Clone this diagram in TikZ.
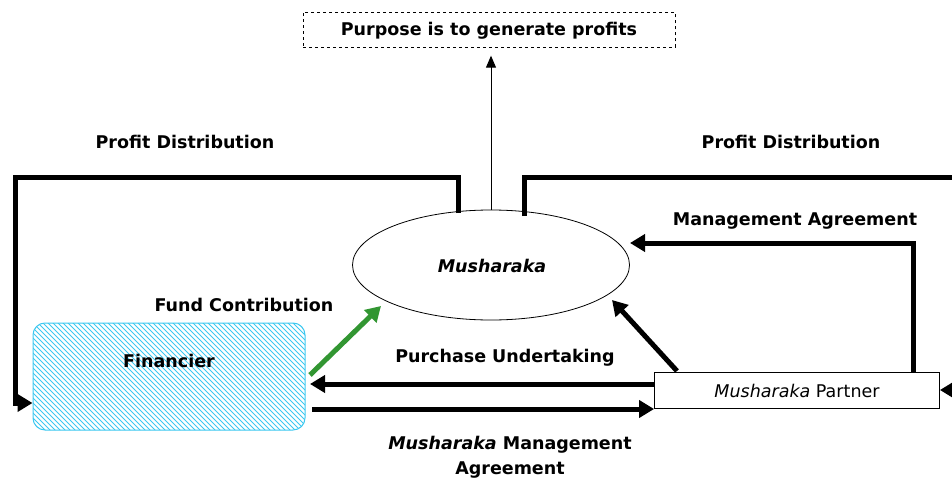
\documentclass[tikz,border=0pt]{standalone}
\usepackage{fontspec}
\setmainfont{DejaVu Sans}
\usetikzlibrary{arrows.meta,shapes.geometric}
\definecolor{hatch}{RGB}{60,200,240}
\definecolor{fgreen}{RGB}{50,150,50}
\begin{document}
\begin{tikzpicture}[x=1pt,y=-1pt,
  lbl/.style={font=\fontsize{17.5}{20}\selectfont\bfseries, inner sep=0pt},
  thick arr/.style={line width=5pt, -{Triangle[length=15pt,width=17pt]}},
]
\useasboundingbox (0,0) rectangle (952,481);
% nodes
\node[draw, dashed, minimum width=372pt, minimum height=35pt, inner sep=0pt] (purpose) at (489,30) {};
\node[lbl] at (489,31) {Purpose is to generate profits};
\node[draw, ellipse, line width=0.8pt, minimum width=277pt, minimum height=110pt, inner sep=0pt] (mush) at (491,265) {};
\node[lbl, font=\fontsize{17.5}{20}\selectfont\bfseries\itshape] at (492,266) {Musharaka};
% financier with hand-drawn hatching
\begin{scope}
  \clip[rounded corners=12pt] (33,323) rectangle (305,430);
  \foreach \i in {-110,-105,...,305} {
    \draw[hatch, line width=0.9pt] (\i,320) -- (\i+115,435);
  }
\end{scope}
\node[draw=hatch, line width=1pt, rounded corners=12pt, minimum width=272pt, minimum height=107pt, inner sep=0pt] (fin) at (169,376.5) {};
\node[lbl] at (169,361) {Financier};
\node[draw, line width=0.8pt, minimum width=285pt, minimum height=36pt, inner sep=0pt] (partner) at (797,390) {};
\node[inner sep=0pt, font=\fontsize{17.5}{20}\selectfont] at (797,391) {\textit{Musharaka} Partner};
% labels
\node[lbl] at (185,142) {Profit Distribution};
\node[lbl] at (791,142) {Profit Distribution};
\node[lbl] at (795,221) {Management Agreement};
\node[lbl] at (244,305) {Fund Contribution};
\node[lbl] at (505,358) {Purchase Undertaking};
\node[lbl, align=center, font=\fontsize{17.5}{25}\selectfont\bfseries] at (510,457) {\textit{Musharaka} Management\\Agreement};
% coordinates
\coordinate (lt) at (458,213);
\coordinate (rt) at (524,216);
\coordinate (rend) at (965,390);
% connectors
\draw[line width=1pt, -{Triangle[length=12pt,width=10pt]}, shorten >=8pt] (mush.north) -- (mush.north |- purpose.south);
\draw[thick arr] (lt) -- (458,178) -- (15,178) -- (15,403) -- (fin.west |- 0,403);
\draw[thick arr] (rt) -- (524,178) -- (965,178) -- (rend) -- (partner.east);
\draw[thick arr] (913,372) -- (913,243) -- (630,243);
\draw[thick arr] (677,371) -- (612,300);
\draw[line width=5pt, fgreen, -{Triangle[length=15pt,width=17pt]}] (310,375) -- (381,306);
\draw[thick arr] (partner.west |- 0,384) -- (310,384);
\draw[thick arr] (312,409) -- (partner.west |- 0,409);
\end{tikzpicture}
\end{document}
